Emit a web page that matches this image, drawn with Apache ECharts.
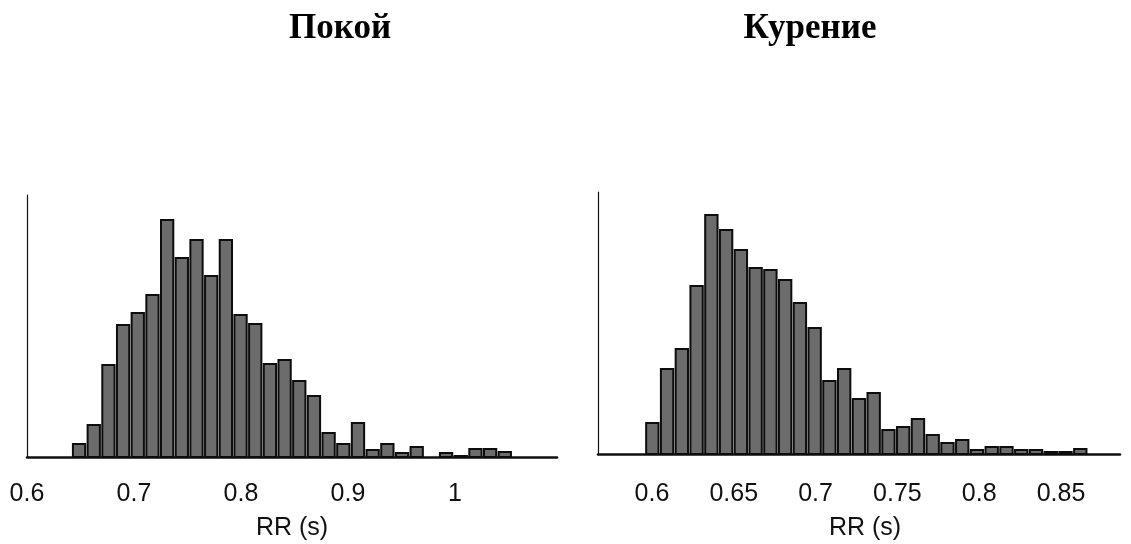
<!DOCTYPE html>
<html>
<head>
<meta charset="utf-8">
<script src="https://cdn.jsdelivr.net/npm/echarts@6/dist/echarts.min.js"></script>
<style>
html,body{margin:0;padding:0;background:#fff;}
#chart{width:1131px;height:544px;}
</style>
</head>
<body>
<div id="chart"></div>
<script>
// Titles
const titles = ['Покой', 'Курение'];
const axisName = 'RR (s)';

// Left histogram (rest): bins start, bin width, counts
const restBinStart = 0.6418;
const restBinWidth = 0.01372;
const restCounts = [13, 32, 92, 132, 144, 162, 237, 199, 217, 181, 217, 142, 133, 93, 97, 76, 61, 24, 13, 34, 7, 13, 4, 10, 0, 4, 1, 8, 8, 5];
const restTicks = [0.6, 0.7, 0.8, 0.9, 1];

// Right histogram (smoking)
const smokeBinStart = 0.5957;
const smokeBinWidth = 0.00902;
const smokeCounts = [31, 85, 105, 168, 239, 224, 204, 186, 184, 174, 151, 126, 73, 85, 55, 61, 24, 27, 35, 19, 11, 14, 4, 7, 7, 4, 4, 2, 2, 5];
const smokeTicks = [0.6, 0.65, 0.7, 0.75, 0.8, 0.85];

function bins(start, width, counts) {
  return counts.map((c, i) => [start + i * width, start + (i + 1) * width, c]);
}

function renderItem(params, api) {
  const s = api.value(0), e = api.value(1), v = api.value(2);
  if (v <= 0) return null;
  const p0 = api.coord([s, v]);
  const p1 = api.coord([e, 0]);
  return {
    type: 'rect',
    shape: { x: p0[0] + 1.2, y: p0[1], width: p1[0] - p0[0] - 2.4, height: p1[1] - p0[1] },
    style: { fill: '#6c6c6c', stroke: '#0d0d0d', lineWidth: 2 }
  };
}

const font = "'Liberation Sans', Arial, sans-serif";
function xAxis(idx, min, max, ticks, margin, gap, pad) {
  return {
    type: 'value', gridIndex: idx, min: min, max: max,
    axisLine: { show: true, lineStyle: { color: '#111', width: 2.5 } },
    axisTick: { show: false },
    splitLine: { show: false },
    axisLabel: { customValues: ticks, color: '#111', fontSize: 25, fontFamily: font, margin: margin },
    name: axisName, nameLocation: 'middle', nameGap: gap,
    nameTextStyle: { color: '#111', fontSize: 25, fontFamily: font, padding: pad }
  };
}
function yAxis(idx) {
  return {
    type: 'value', gridIndex: idx, min: 0, max: 262,
    axisLine: { show: true, lineStyle: { color: '#111', width: 1.2 } },
    axisTick: { show: false }, axisLabel: { show: false }, splitLine: { show: false }
  };
}

const chart = echarts.init(document.getElementById('chart'), null, { renderer: 'canvas' });
chart.setOption({
  backgroundColor: '#fff',
  animation: false,
  title: [
    { text: titles[0], left: 335, top: 6, textAlign: 'center',
      textStyle: { fontFamily: "'Liberation Serif', 'Times New Roman', serif", fontWeight: 'bold', fontSize: 35, color: '#000' } },
    { text: titles[1], left: 805, top: 6, textAlign: 'center',
      textStyle: { fontFamily: "'Liberation Serif', 'Times New Roman', serif", fontWeight: 'bold', fontSize: 35, color: '#000' } }
  ],
  grid: [
    { left: 27, top: 195, width: 530, height: 262 },
    { left: 598, top: 192, width: 522, height: 262 }
  ],
  xAxis: [
    xAxis(0, 0.6, 0.6 + 530 / 1070, restTicks, 25, 59, [0, 0, 0, 0]),
    xAxis(1, 0.567, 0.567 + 522 / 1636, smokeTicks, 28, 62, [0, 0, 0, 12])
  ],
  yAxis: [yAxis(0), yAxis(1)],
  series: [
    { type: 'custom', xAxisIndex: 0, yAxisIndex: 0, renderItem: renderItem,
      encode: { x: [0, 1], y: 2 }, data: bins(restBinStart, restBinWidth, restCounts) },
    { type: 'custom', xAxisIndex: 1, yAxisIndex: 1, renderItem: renderItem,
      encode: { x: [0, 1], y: 2 }, data: bins(smokeBinStart, smokeBinWidth, smokeCounts) }
  ]
});
</script>
</body>
</html>
